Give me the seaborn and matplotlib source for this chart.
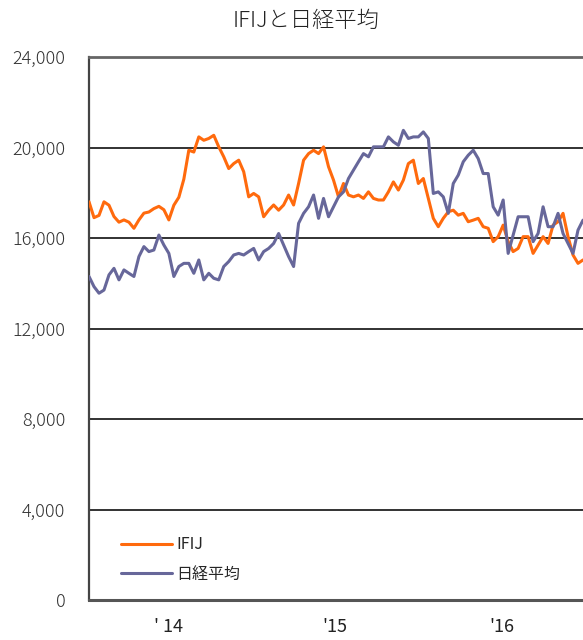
import numpy as np
import pandas as pd
import matplotlib
matplotlib.use("Agg")
import matplotlib.pyplot as plt
import seaborn as sns

# ============================================================
# Data
# ============================================================

series_names = ["IFIJ", "日経平均"]

ifij = [
    17600, 16900, 17000, 17600, 17450, 16950, 16700, 16800, 16700, 16430,
    16800, 17100, 17150, 17300, 17400, 17250, 16800, 17450, 17800, 18600,
    19880, 19800, 20470, 20320, 20400, 20540, 20030, 19590, 19070, 19290,
    19440, 18930, 17820, 17970, 17820, 16940, 17230, 17460, 17230, 17460,
    17900, 17460, 18410, 19440, 19730, 19880, 19730, 20030, 19150, 18560,
    17820, 18410, 17900, 17820, 17900, 17750, 18040, 17750, 17680,
    17680, 18040, 18480, 18120, 18560, 19290, 19440, 18410, 18630, 17750,
    16870, 16500, 16870, 17160, 17230, 17010, 17090, 16720, 16790, 16870,
    16500, 16430, 15840, 16060, 16570, 15840, 15400, 15540, 16060, 16060,
    15320, 15690, 16060, 15760, 16570, 16720, 17090, 16060, 15250, 14880,
    15030,
]

nikkei = [
    14300, 13850, 13560, 13700, 14370, 14660, 14150, 14590, 14440, 14300,
    15180, 15620, 15400, 15470, 16130, 15690, 15320, 14300, 14740, 14880,
    14880, 14440, 15030, 14150, 14440, 14220, 14150, 14740, 14960, 15250,
    15320, 15250, 15400, 15540, 15030, 15400, 15540, 15760, 16200, 15690,
    15180, 14740, 16650, 17090, 17380, 17900, 16870, 17750, 16940, 17380,
    17820, 18040, 18630, 19000, 19370, 19730, 19590, 20030, 20030,
    20030, 20470, 20250, 20100, 20760, 20400, 20470, 20470, 20690, 20400,
    17970, 18040, 17820, 17090, 18410, 18780, 19370, 19660, 19880, 19510,
    18850, 18850, 17380, 17010, 17680, 15320, 16130, 16940, 16940, 16940,
    15840, 16200, 17380, 16500, 16500, 17090, 16200, 15760, 15320, 16350,
    16790,
]

start_date = "2013-08-05"
end_date = "2016-07-24"

year_ticks = ["2014-01-27", "2015-01-27", "2016-01-27"]
year_labels = ["' 14", "'15", "'16"]

y_ticks = [0, 4000, 8000, 12000, 16000, 20000, 24000]

colors = {"IFIJ": "#FF6A0D", "日経平均": "#67679A"}

# ============================================================
# Build table
# ============================================================

dates = pd.date_range(start_date, end_date, periods=len(ifij))

df = pd.DataFrame({
    "date": np.concatenate([dates, dates]),
    "value": ifij + nikkei,
    "series": [series_names[0]] * len(ifij) + [series_names[1]] * len(nikkei),
})

# ============================================================
# Plot
# ============================================================

sns.set_style("white")
plt.rcParams["font.family"] = ["Noto Sans CJK JP", "DejaVu Sans"]

fig = plt.figure(figsize=(5.83, 6.40), dpi=100)
ax = fig.add_axes([0.1527, 0.0625, 0.8473, 0.8484])

for y in y_ticks[1:-1]:
    ax.axhline(y, color="#222222", lw=1.3, zorder=1)

sns.lineplot(
    data=df,
    x="date",
    y="value",
    hue="series",
    palette=colors,
    linewidth=2.2,
    ax=ax,
    zorder=3,
)

ax.set_xlim(dates[0], dates[-1])
ax.set_ylim(0, 24000)

ax.set_yticks(y_ticks)
ax.set_yticklabels([f"{v:,}" for v in y_ticks], fontsize=13, color="#333333",
                   fontweight="light")
ax.set_xticks(pd.to_datetime(year_ticks))
ax.set_xticklabels(year_labels, fontsize=13, color="#222222")
ax.tick_params(axis="y", length=0, pad=17)
ax.tick_params(axis="x", length=0, pad=13)

ax.set_xlabel("")
ax.set_ylabel("")

ax.spines["right"].set_visible(False)
ax.spines["left"].set_color("#444444")
ax.spines["left"].set_linewidth(1.6)
ax.spines["top"].set_color("#666666")
ax.spines["top"].set_linewidth(2)
ax.spines["bottom"].set_color("#555555")
ax.spines["bottom"].set_linewidth(2.2)

leg = ax.legend(
    loc="lower left",
    bbox_to_anchor=(0.035, 0.005),
    frameon=False,
    fontsize=11.5,
    handlelength=3.2,
    handletextpad=0.3,
    labelspacing=0.8,
)
for line in leg.get_lines():
    line.set_linewidth(2.2)

fig.text(0.525, 0.967, "IFIJと日経平均", ha="center", va="center",
         fontsize=16, color="#222222", fontweight="light")

plt.savefig("out.png", dpi=100)
plt.close()
